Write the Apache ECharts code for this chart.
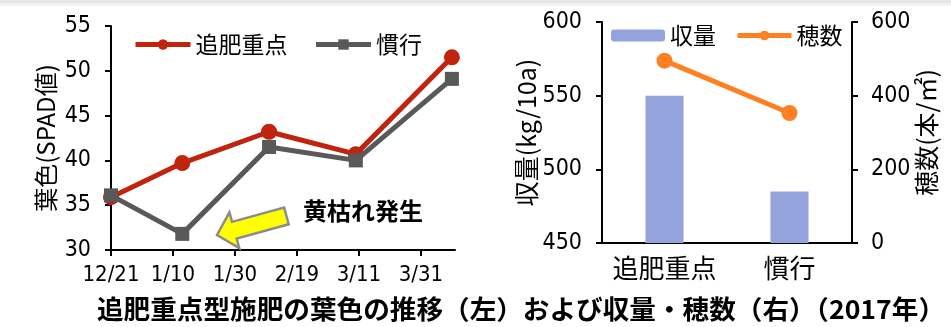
<!DOCTYPE html>
<html>
<head>
<meta charset="utf-8">
<script src="https://cdn.jsdelivr.net/npm/echarts@6/dist/echarts.min.js"></script>
<style>
html,body{margin:0;padding:0;background:#fff;}
#c{width:951px;height:327px;}
</style>
</head>
<body>
<div id="c"></div>
<script>
// ---- Left chart: leaf colour (SPAD) ----
const tickDays = [0, 20, 40, 60, 80, 100];           // days after 12/21
const tickLabels = ['12/21', '1/10', '1/30', '2/19', '3/11', '3/31'];
const sampleDays = [0, 23, 51, 79, 110];              // measurement dates (days after 12/21)
const spadFocus = [35.9, 39.7, 43.2, 40.7, 51.5];     // 追肥重点
const spadConv = [36.1, 31.8, 41.5, 40.0, 49.1];      // 慣行
const leftNames = ['追肥重点', '慣行'];

// ---- Right chart: yield & panicle number ----
const categories = ['追肥重点', '慣行'];
const yieldVals = [550, 485];          // 収量 kg/10a
const panicleVals = [495, 353];        // 穂数 本/㎡

const titleText = '追肥重点型施肥の葉色の推移（左）および収量・穂数（右）（2017年）';
const noteText = '黄枯れ発生';

const JP = "'Noto Sans CJK JP',sans-serif";
const RED = '#C0230E', GRAY = '#595959', BLUE = '#95A3DC', ORANGE = '#FF8022';

// ---- pick a narrow font for numbers ----
const mctx = document.createElement('canvas').getContext('2d');
function w(font, s) { mctx.font = font; return mctx.measureText(s || '0123456789/').width; }
function hasFont(f) {
  return w('40px monospace') !== w('40px "' + f + '", monospace') ||
         w('40px serif') !== w('40px "' + f + '", serif');
}
let NUM = "'Liberation Sans', sans-serif", NUMW = 'normal';
if (hasFont('Liberation Sans Narrow')) { NUM = "'Liberation Sans Narrow', sans-serif"; }
else if (hasFont('Arial Narrow')) { NUM = "'Arial Narrow', sans-serif"; }
else if (hasFont('DejaVu Sans Condensed')) { NUM = "'DejaVu Sans Condensed', sans-serif"; }

const chart = echarts.init(document.getElementById('c'), null, {renderer: 'canvas'});

// arrow polygon (annotation graphic)
function arrowPts(tx, ty, ang, L, h, hw, bw) {
  const ux = Math.cos(ang), uy = -Math.sin(ang);
  const nx = Math.sin(ang), ny = Math.cos(ang);
  const P = (a, b) => [tx + ux * a + nx * b, ty + uy * a + ny * b];
  return [P(0, 0), P(h, -hw), P(h, -bw), P(L, -bw), P(L, bw), P(h, bw), P(h, hw)];
}

// title stretched to the reference width
const titleFont = "bold 26px 'Noto Sans CJK JP', sans-serif";
const titleW = w(titleFont, titleText);
const titleScale = 848 / titleW;

const axisLineStyle = {color: '#000', width: 2};
const numLabel = {color: '#000', fontFamily: NUM, fontWeight: NUMW, fontSize: 23};

const option = {
  animation: false,
  backgroundColor: '#fff',
  legend: [
    {
      data: leftNames, left: 128, top: 28, itemWidth: 55, itemHeight: 13, itemGap: 26,
      lineStyle: {width: 5},
      textStyle: {fontFamily: JP, fontSize: 23, color: '#000'}
    },
    {
      data: ['収量', '穂数'], left: 606, top: 19, itemWidth: 54, itemHeight: 12, itemGap: 19,
      lineStyle: {width: 5},
      textStyle: {fontFamily: JP, fontSize: 23, color: '#000'}
    }
  ],
  grid: [
    {left: 111, right: 496, top: 26, bottom: 77},
    {left: 602, right: 99, top: 22, bottom: 84}
  ],
  xAxis: [
    {
      gridIndex: 0, type: 'value', min: 0, max: 111,
      axisLine: {lineStyle: axisLineStyle},
      axisTick: {show: true, length: 6, inside: false, lineStyle: {color: '#000', width: 2}, customValues: tickDays},
      axisLabel: Object.assign({
        customValues: tickDays, margin: 14,
        formatter: v => tickLabels[tickDays.indexOf(v)] || ''
      }, numLabel, {fontSize: 22}),
      splitLine: {show: false}
    },
    {
      gridIndex: 1, type: 'category', data: categories,
      axisLine: {lineStyle: axisLineStyle},
      axisTick: {show: false},
      axisLabel: {interval: 0, margin: 12, color: '#000', fontFamily: JP, fontSize: 26}
    }
  ],
  yAxis: [
    {
      gridIndex: 0, type: 'value', min: 30, max: 55, interval: 5,
      name: '葉色(SPAD値)', nameLocation: 'middle', nameGap: 53, nameRotate: 90,
      nameTextStyle: {fontFamily: JP, fontSize: 24, color: '#000'},
      axisLine: {show: true, lineStyle: axisLineStyle},
      axisTick: {show: true, length: 6, lineStyle: {color: '#000', width: 2}},
      axisLabel: Object.assign({margin: 20}, numLabel),
      splitLine: {show: false}
    },
    {
      gridIndex: 1, type: 'value', min: 450, max: 600, interval: 50, position: 'left',
      name: '収量(kg/10a)', nameLocation: 'middle', nameGap: 52, nameRotate: 90,
      nameTextStyle: {fontFamily: JP, fontSize: 25, color: '#000'},
      axisLine: {show: true, lineStyle: axisLineStyle},
      axisTick: {show: true, length: 6, lineStyle: {color: '#000', width: 2}},
      axisLabel: Object.assign({margin: 20}, numLabel),
      splitLine: {show: false}
    },
    {
      gridIndex: 1, type: 'value', min: 0, max: 600, interval: 200, position: 'right',
      name: '穂数(本/㎡)', nameLocation: 'middle', nameGap: 49, nameRotate: 90,
      nameTextStyle: {fontFamily: JP, fontSize: 25, color: '#000'},
      axisLine: {show: true, lineStyle: axisLineStyle},
      axisTick: {show: true, length: 6, lineStyle: {color: '#000', width: 2}},
      axisLabel: Object.assign({margin: 19}, numLabel),
      splitLine: {show: false}
    }
  ],
  series: [
    {
      name: leftNames[0], type: 'line', xAxisIndex: 0, yAxisIndex: 0,
      data: sampleDays.map((d, i) => [d, spadFocus[i]]),
      symbol: 'circle', symbolSize: 16,
      lineStyle: {color: RED, width: 5}, itemStyle: {color: RED}, z: 3
    },
    {
      name: leftNames[1], type: 'line', xAxisIndex: 0, yAxisIndex: 0,
      data: sampleDays.map((d, i) => [d, spadConv[i]]),
      symbol: 'rect', symbolSize: 14,
      lineStyle: {color: GRAY, width: 5}, itemStyle: {color: GRAY}, z: 4
    },
    {
      name: '収量', type: 'bar', xAxisIndex: 1, yAxisIndex: 1,
      data: yieldVals, barWidth: 38, itemStyle: {color: BLUE}
    },
    {
      name: '穂数', type: 'line', xAxisIndex: 1, yAxisIndex: 2,
      data: panicleVals, symbol: 'circle', symbolSize: 16,
      lineStyle: {color: ORANGE, width: 5}, itemStyle: {color: ORANGE}, z: 5
    }
  ],
  graphic: [
    {type: 'rect', shape: {x: 0, y: 0, width: 951, height: 3}, style: {fill: '#e6e6e6'}, silent: true},
    {type: 'rect', shape: {x: 0, y: 3, width: 951, height: 3}, style: {fill: '#f3f3f3'}, silent: true},
    {
      type: 'polygon',
      shape: {points: arrowPts(217, 235, 15.4 * Math.PI / 180, 72, 18, 18.5, 8.7)},
      style: {fill: '#FFFF00', stroke: '#8c8c8c', lineWidth: 2.5, lineJoin: 'miter'},
      z: 10
    },
    {
      type: 'text', left: 303, top: 199,
      style: {text: noteText, font: "bold 24px 'Noto Sans CJK JP', sans-serif", fill: '#000'},
      z: 10
    },
    {
      type: 'text', x: 97, y: 309, scaleX: titleScale, originX: 0,
      style: {text: titleText, font: titleFont, fill: '#000', textVerticalAlign: 'middle', verticalAlign: 'middle'},
      z: 10
    }
  ]
};
chart.setOption(option);
</script>
</body>
</html>
